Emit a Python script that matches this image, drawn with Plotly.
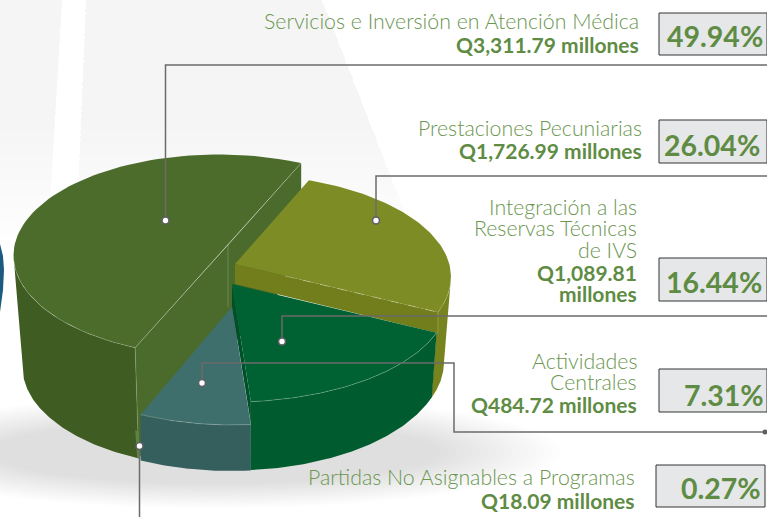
import numpy as np
import plotly.graph_objects as go

# ---- data ----
categories = ["Servicios e Inversión en Atención Médica", "Prestaciones Pecuniarias",
              "Integración a las Reservas Técnicas de IVS", "Actividades Centrales",
              "Partidas No Asignables a Programas"]
amounts = ["Q3,311.79 millones", "Q1,726.99 millones", "Q1,089.81 millones",
           "Q484.72 millones", "Q18.09 millones"]
percents = [49.94, 26.04, 16.44, 7.31, 0.27]

# label lines per category (wrapped as in the picture)
label_lines = [
    [categories[0]],
    [categories[1]],
    ["Integración a las", "Reservas Técnicas", "de IVS"],
    ["Actividades", "Centrales"],
    [categories[4]],
]
amount_lines = [[amounts[0]], [amounts[1]], ["Q1,089.81", "millones"], [amounts[3]], [amounts[4]]]

# ---- styling / layout of the pseudo-3D pie (pixel canvas) ----
W, H = 767, 517
LIGHT, BOLD = "#6a9650", "#5f8c44"
geom = [
    dict(apex=(228, 245), c=(218.5, 255.5), rx=205, ry=101, start=204, warp=1.0,
         bc=(218.5, 367), brx=196, bry=100, apex_h=105,
         top="#4c6c2c", wall="#3f5c22", cut="#4a6b2b"),
    dict(apex=(235, 264), c=(235, 277), rx=216, ry=103, start=20, warp=0.96,
         bc=(235, 362), brx=209, bry=105, apex_h=20,
         top="#7d8c24", wall="#77831f", cut="#727e1c"),
    dict(apex=(232, 284), c=(232, 300), rx=216, ry=102, start=108.7, warp=1.12,
         bc=(232, 362.5), brx=211, bry=108, apex_h=23,
         top="#006233", wall="#005c2e", cut="#00502a"),
    dict(apex=(232, 307), c=(232, 314), rx=216, ry=111, start=175, warp=1.14,
         bc=(232, 360), brx=216, bry=111, apex_h=0,
         top="#3f6f6d", wall="#345f5d", cut="#345f5d"),
    dict(apex=(232, 307), c=(218.5, 328), rx=205, ry=112, start=203, warp=1.0,
         bc=(218.5, 356), brx=200, bry=112, apex_h=0,
         top="#5d8445", wall="#5d8445", cut="#5d8445"),
]
callouts = [
    dict(x=[165.5, 165.5, W], y=[220.5, 65, 65]),
    dict(x=[376, 376, W], y=[220.5, 176, 176]),
    dict(x=[282, 282, W], y=[341.5, 316, 316]),
    dict(x=[202, 202, 454, 454, 765], y=[383, 363, 363, 432, 432]),
    dict(x=[139.5, 139.5], y=[446, H]),
]
boxes = [(659, 13, 767, 55), (659, 120, 767, 163), (659, 258, 767, 301),
         (659, 369, 767, 412), (656, 465, 765, 507)]
pct_center = [(715, 36), (712, 145), (714, 282), (724, 395), (721, 488)]
label_rows = [
    (641, [21, 44]), (644, [128, 150]), (638.5, [207, 228, 250, 272, 293]),
    (638.5, [361, 382, 404]), (637, [477, 500]),
]

fig = go.Figure()


def arc(c, rx, ry, t0, t1, n=80):
    t = np.radians(np.linspace(t0, t1, n))
    return c[0] + rx * np.sin(t), c[1] - ry * np.cos(t)


def poly(x, y, color):
    fig.add_trace(go.Scatter(x=list(x), y=list(y), mode="lines", fill="toself",
                             fillcolor=color, line=dict(width=0), hoverinfo="skip",
                             showlegend=False))


def line(x, y, color="rgba(255,255,255,0.3)", width=0.8, dash="solid"):
    fig.add_trace(go.Scatter(x=list(x), y=list(y), mode="lines",
                             line=dict(color=color, width=width, dash=dash),
                             hoverinfo="skip", showlegend=False))


# background rays, fading towards the bottom
for yk in range(130, 260, 13):
    ray1 = lambda y: 62 - 10 / 170 * y
    ray2 = lambda y: 86 - 7 / 170 * y
    ray3 = lambda y: 322 + 78 / 200 * y
    poly([0, ray1(0), ray1(yk), 0], [0, 0, yk, yk], "rgba(205,210,210,0.022)")
    poly([ray2(0), ray3(0), ray3(yk), ray2(yk)], [0, 0, yk, yk], "rgba(205,210,210,0.02)")
# soft shadow under the pie
for k in range(16):
    f = k / 15
    sx, sy = arc((215, 452), 345 - 120 * f, 56 - 24 * f, 0, 360, 60)
    poly(sx, sy, "rgba(150,155,160,0.02)")
# blue neighbour shape at the left edge
poly([0, 3, 4, 3, 0], [244, 256, 270, 290, 312], "#1d5a80")

sweeps = [p * 3.6 for p in percents]


def spans(i):
    g = geom[i]
    return g["start"], g["start"] + sweeps[i] * g["warp"]


def wall_arcs(g, t0, t1):
    a, b = max(t0, 90), min(t1, 270)
    tx, ty = arc(g["c"], g["rx"], g["ry"], a, b)
    bx, by = arc(g["bc"], g["brx"], g["bry"], a, b)
    return np.r_[tx, bx[::-1]], np.r_[ty, by[::-1]]


# main slice: cut faces, wall, top
g = geom[0]
t0, t1 = spans(0)
ax, ay = g["apex"]
tx, ty = arc(g["c"], g["rx"], g["ry"], t0, t1)
bx, by = arc(g["bc"], g["brx"], g["bry"], t0, t1)
poly([tx[-1], ax, ax, tx[-1]], [ty[-1], ay, ay + g["apex_h"], ty[-1] + 105], g["cut"])
poly([tx[0], ax, ax, bx[0]], [ty[0], ay, ay + g["apex_h"], by[0]], g["cut"])
poly(*wall_arcs(g, t0, t1), g["wall"])
poly(tx, ty, g["top"])
line(tx[:30], ty[:30], "rgba(255,255,255,0.3)", 0.7)
line([tx[0], tx[-1]], [ty[0], ty[-1]], "rgba(255,255,255,0.3)", 0.7)
line([ax, ax], [ay, ay + 62], "rgba(255,255,255,0.3)", 0.7)
line([tx[0], bx[0]], [ty[0], by[0]], "rgba(255,255,255,0.25)", 0.7)

# remaining slices, back to front
for i in [1, 4, 2, 3]:
    g = geom[i]
    t0, t1 = spans(i)
    ax, ay = g["apex"]
    tx, ty = arc(g["c"], g["rx"], g["ry"], t0, t1)
    poly(*wall_arcs(g, t0, t1), g["wall"])
    if i == 1:
        poly([ax, tx[-1], tx[-1], ax], [ay, ty[-1], ty[-1] + 21, ay + g["apex_h"]], g["cut"])
    if i == 2:
        poly([ax, tx[-1], tx[-1], ax], [ay, ty[-1], ty[-1] + 22, ay + g["apex_h"]], g["cut"])
    if i != 4:
        poly(np.r_[ax, tx], np.r_[ay, ty], g["top"])
    if i == 1:
        line([285, tx[-1]], [276, ty[-1]], "rgba(255,255,255,0.45)", 0.7, "dash")
        line([tx[-1], tx[-1]], [ty[-1], ty[-1] + 21], "rgba(255,255,255,0.3)", 0.7)
        line(tx[-22:], ty[-22:], "rgba(255,255,255,0.25)", 0.7)
    if i in (2, 3):
        line(tx, ty, "rgba(255,255,255,0.3)", 0.7)

# call-out lines and dots
for c in callouts:
    line(c["x"], c["y"], "#6b6b6b", 1.5)
fig.add_trace(go.Scatter(x=[c["x"][0] for c in callouts], y=[c["y"][0] for c in callouts],
                         mode="markers", hoverinfo="skip", showlegend=False,
                         marker=dict(size=7, color="white", line=dict(color="#5e5e66", width=1.6))))
fig.add_trace(go.Scatter(x=[765], y=[432], mode="markers", hoverinfo="skip", showlegend=False,
                         marker=dict(size=5, color="#5e5e66")))

# percentage boxes
for b in boxes:
    fig.add_shape(type="rect", x0=b[0], y0=b[1], x1=b[2], y1=b[3], layer="above",
                  fillcolor="#e6e7e8", line=dict(color="#333333", width=1))
annotations = []
for p, (x, y) in zip(percents, pct_center):
    annotations.append(dict(x=x, y=y, text=f"{p:.2f}%", showarrow=False, xanchor="center",
                            yanchor="middle", font=dict(family="Lato", size=28.5, color=BOLD, weight=700)))
for i, (xr, ys) in enumerate(label_rows):
    rows = [(t, LIGHT, 300) for t in label_lines[i]] + [(t, BOLD, 700) for t in amount_lines[i]]
    for (t, col, wt), y in zip(rows, ys):
        annotations.append(dict(x=xr, y=y, text=t, showarrow=False, xanchor="right", yanchor="middle",
                                font=dict(family="Lato", size=21.3 if wt == 300 else 21, color=col, weight=wt)))

fig.update_layout(
    width=W, height=H, margin=dict(l=0, r=0, t=0, b=0), showlegend=False,
    paper_bgcolor="rgba(0,0,0,0)", plot_bgcolor="rgba(0,0,0,0)", annotations=annotations,
    xaxis=dict(range=[0, W], visible=False, fixedrange=True),
    yaxis=dict(range=[H, 0], visible=False, fixedrange=True),
)
fig.write_html("out.html", config=dict(displayModeBar=False),
               post_script="document.body.style.margin='0';document.body.style.overflow='hidden';")
